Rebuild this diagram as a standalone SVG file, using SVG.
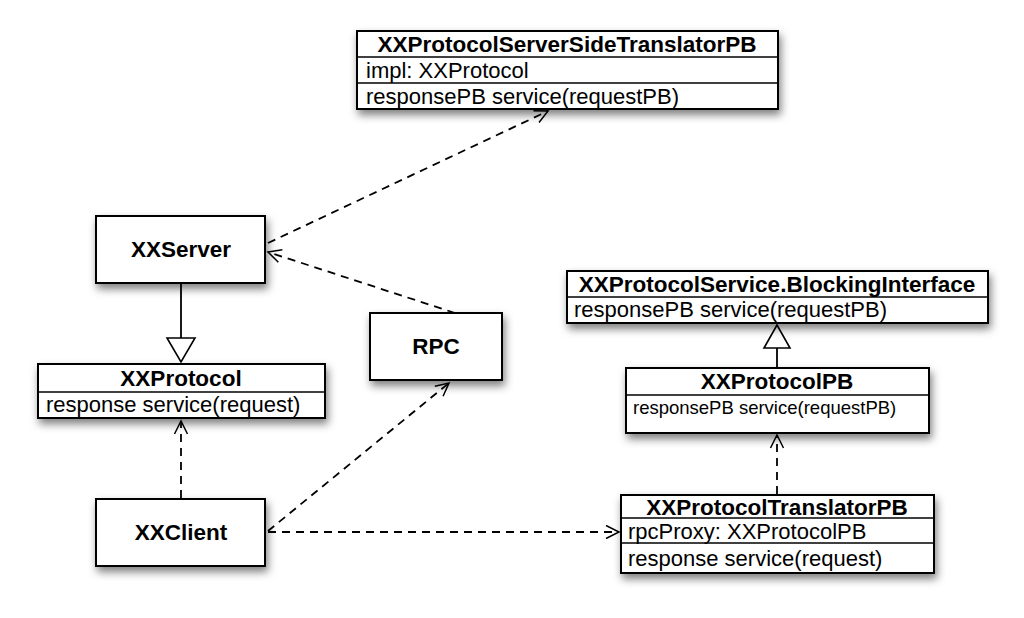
<svg xmlns="http://www.w3.org/2000/svg" width="1024" height="618" viewBox="0 0 1024 618">
<defs>
<filter id="sh" x="-10%" y="-20%" width="125%" height="160%">
<feDropShadow dx="2" dy="5" stdDeviation="4" flood-color="#000" flood-opacity="0.5"/>
</filter>
<marker id="open" markerWidth="18" markerHeight="18" refX="15" refY="9" orient="auto" markerUnits="userSpaceOnUse">
<path d="M2,2.5 L15,9 L2,15.5" fill="none" stroke="#000" stroke-width="1.5"/>
</marker>
</defs>
<style>
.box{fill:#fff;stroke:#000;stroke-width:2}
.sep{stroke:#000;stroke-width:1.5}
.h{font-family:"Liberation Sans",Arial,sans-serif;font-weight:bold;font-size:22.5px;text-anchor:middle;fill:#000}
.t{font-family:"Liberation Sans",Arial,sans-serif;font-size:22px;fill:#000}
.s{font-family:"Liberation Sans",Arial,sans-serif;font-size:18.5px;fill:#000}
.dash{fill:none;stroke:#000;stroke-width:1.8;stroke-dasharray:8,6}
.solid{fill:none;stroke:#000;stroke-width:1.8}
.tri{fill:#fff;stroke:#000;stroke-width:1.6}
</style>
<rect width="1024" height="618" fill="#fff"/>
<g id="connectors">
<path class="dash" d="M268,243 L548,111" marker-end="url(#open)"/>
<path class="dash" d="M455,313 L268,252" marker-end="url(#open)"/>
<path class="dash" d="M268,531 L449,383" marker-end="url(#open)"/>
<path class="dash" d="M268,532 L619,532" marker-end="url(#open)"/>
<path class="dash" d="M181,498 L181,421" marker-end="url(#open)"/>
<path class="dash" d="M777,494 L777,435" marker-end="url(#open)"/>
<path class="solid" d="M181,283 L181,338"/>
<path class="tri" d="M167,338 L195,338 L181,362 Z"/>
<path class="solid" d="M777,368 L777,348"/>
<path class="tri" d="M764,348 L790,348 L777,325 Z"/>
</g>
<g id="serverSideTranslator">
<rect class="box" x="357" y="31" width="421" height="78" filter="url(#sh)"/>
<line class="sep" x1="357" y1="57" x2="778" y2="57"/>
<line class="sep" x1="357" y1="83" x2="778" y2="83"/>
<text class="h" x="567" y="52">XXProtocolServerSideTranslatorPB</text>
<text class="t" x="366" y="78">impl: XXProtocol</text>
<text class="t" x="366" y="104">responsePB service(requestPB)</text>
</g>
<g id="xxserver">
<rect class="box" x="96" y="216" width="169" height="67" filter="url(#sh)"/>
<text class="h" x="181" y="257">XXServer</text>
</g>
<g id="rpc">
<rect class="box" x="370" y="313" width="132" height="67" filter="url(#sh)"/>
<text class="h" x="436" y="354">RPC</text>
</g>
<g id="xxprotocol">
<rect class="box" x="38" y="364" width="287" height="54" filter="url(#sh)"/>
<line class="sep" x1="38" y1="392" x2="325" y2="392"/>
<text class="h" x="181" y="386">XXProtocol</text>
<text class="t" x="46" y="412">response service(request)</text>
</g>
<g id="xxclient">
<rect class="box" x="96" y="499" width="169" height="67" filter="url(#sh)"/>
<text class="h" x="181" y="540">XXClient</text>
</g>
<g id="blockingInterface">
<rect class="box" x="567" y="271" width="421" height="52" filter="url(#sh)"/>
<line class="sep" x1="567" y1="297" x2="988" y2="297"/>
<text class="h" x="777" y="292">XXProtocolService.BlockingInterface</text>
<text class="t" x="574" y="317">responsePB service(requestPB)</text>
</g>
<g id="xxprotocolpb">
<rect class="box" x="626" y="368" width="303" height="65" filter="url(#sh)"/>
<line class="sep" x1="626" y1="395" x2="929" y2="395"/>
<text class="h" x="777" y="389">XXProtocolPB</text>
<text class="s" x="633" y="414">responsePB service(requestPB)</text>
</g>
<g id="translatorPB">
<rect class="box" x="621" y="495" width="313" height="78" filter="url(#sh)"/>
<line class="sep" x1="621" y1="518" x2="934" y2="518"/>
<line class="sep" x1="621" y1="543" x2="934" y2="543"/>
<text class="h" x="777" y="515">XXProtocolTranslatorPB</text>
<text class="t" x="628" y="539">rpcProxy: XXProtocolPB</text>
<text class="t" x="628" y="566">response service(request)</text>
</g>
</svg>
